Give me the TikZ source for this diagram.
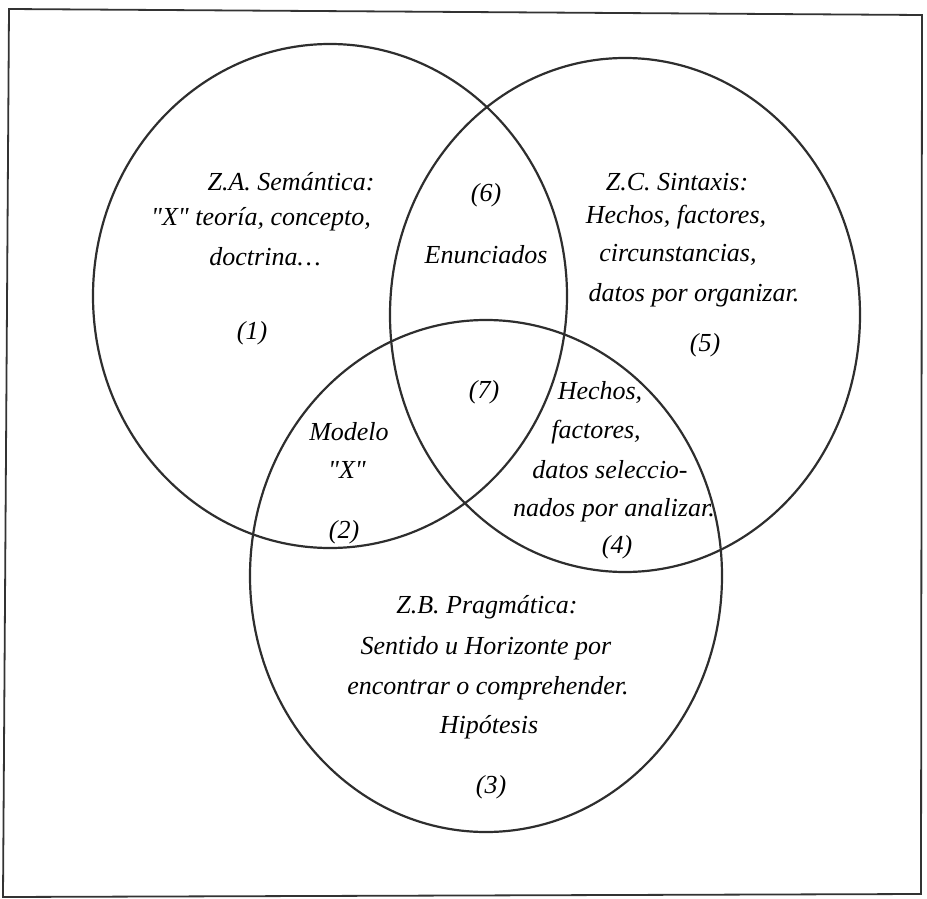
\documentclass[tikz,border=0pt]{standalone}
\usepackage{fontspec}
\setmainfont{Liberation Serif}
\usetikzlibrary{
    positioning,           % Relative positioning
    calc                   % Coordinate calculations
}

\begin{document}
\begin{tikzpicture}[x=1pt,y=-1pt,
    zona/.style={draw, line width=2.2pt, color=black!82},
    etq/.style={font=\fontsize{26}{30}\selectfont\itshape, inner sep=0pt}]
    \useasboundingbox (0,0) rectangle (927,899);
    % marco
    \draw[line width=1.8pt, color=black!80] (9,9) -- (922,15) -- (921,894) -- (3,897) -- cycle;
    % las tres zonas
    \draw[zona] (330,296) ellipse [x radius=237pt, y radius=252pt];
    \draw[zona] (625,315) ellipse [x radius=235pt, y radius=257pt];
    \draw[zona] (486,576) ellipse [x radius=236pt, y radius=256pt];
    % zona A
    \node[etq] (za1) at (291,182) {Z.A. Semántica:};
    \node[etq] (za2) at (261,219) {\textquotedbl X\textquotedbl{} teoría, concepto,};
    \node[etq] (za3) at (265,257) {doctrina\ldots};
    \node[etq] (n1) at (252,333) {(1)};
    % interseccion A-C
    \node[etq] (n6) at (486,195) {(6)};
    \node[etq] (enun) at (486,255) {Enunciados};
    % zona C
    \node[etq] (zc1) at (677,182) {Z.C. Sintaxis:};
    \node[etq] (zc2) at (676,217) {Hechos, factores,};
    \node[etq] (zc3) at (678,255) {circunstancias,};
    \node[etq] (zc4) at (694,295) {datos por organizar.};
    \node[etq] (n5) at (705,345) {(5)};
    % centro
    \node[etq] (n7) at (484,392) {(7)};
    % interseccion A-B
    \node[etq] (mod1) at (349,432) {Modelo};
    \node[etq] (mod2) at (347,470) {\textquotedbl X\textquotedbl};
    \node[etq] (n2) at (344,532) {(2)};
    % interseccion B-C
    \node[etq] (he1) at (600,392) {Hechos,};
    \node[etq] (he2) at (596,432) {factores,};
    \node[etq] (he3) at (610,470) {datos seleccio-};
    \node[etq] (he4) at (614,510) {nados por analizar.};
    \node[etq] (n4) at (617,547) {(4)};
    % zona B
    \node[etq] (zb1) at (487,607) {Z.B. Pragmática:};
    \node[etq] (zb2) at (486,648) {Sentido u Horizonte por};
    \node[etq] (zb3) at (488,688) {encontrar o comprehender.};
    \node[etq] (zb4) at (489,727) {Hipótesis};
    \node[etq] (n3) at (491,787) {(3)};
\end{tikzpicture}
\end{document}
